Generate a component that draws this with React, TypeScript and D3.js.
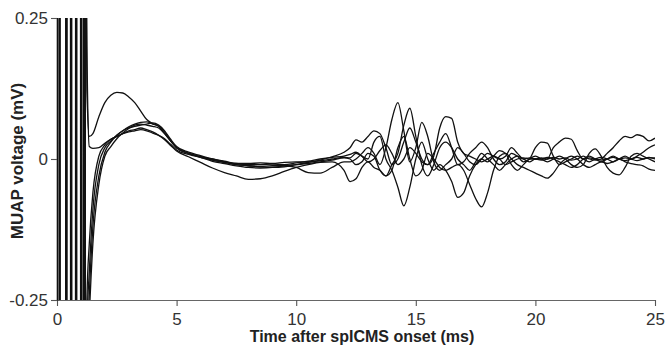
import * as d3 from "d3";
import { useEffect, useRef } from "react";

// sample times (ms) after the stimulus artifact
const sampleTimes = [
  1.25, 1.35, 1.5, 1.75, 2, 2.25, 2.5, 2.75, 3, 3.25, 3.5, 3.75, 4, 4.25, 4.5, 4.75, 5,
  5.5, 6, 6.5, 7, 7.5, 8, 8.5, 9, 9.5, 10, 10.5, 11, 11.5, 12,
  12.25, 12.5, 12.75, 13, 13.25, 13.5, 13.75, 14, 14.25, 14.5, 14.75, 15, 15.25, 15.5, 15.75, 16,
  16.25, 16.5, 16.75, 17, 17.25, 17.5, 17.75, 18, 18.25, 18.5, 18.75, 19, 19.25, 19.5, 19.75, 20,
  20.25, 20.5, 20.75, 21, 21.25, 21.5, 21.75, 22, 22.25, 22.5, 22.75, 23, 23.25, 23.5, 23.75, 24,
  24.25, 24.5, 24.75, 25,
];

// MUAP voltage (mV) per sweep
const sweepA = [
  0.12, 0.04, 0.045, 0.075, 0.1, 0.113, 0.118, 0.117, 0.11, 0.1, 0.085, 0.07, 0.063, 0.058, 0.045, 0.032, 0.02,
  0.01, 0.004, 0, -0.004, -0.008, -0.01, -0.01, -0.009, -0.01, -0.007, -0.004, 0, 0.003, 0.005,
  0.008, 0.012, 0.005, -0.005, 0, 0.015, 0.025, 0.01, -0.01, 0, 0.02, 0.01, -0.005, -0.01, 0.005, 0.055,
  0.075, 0.072, 0.03, 0.01, 0.005, 0, -0.005, 0, 0.005, 0, -0.01, -0.005, 0, 0.002, 0, 0,
  0.002, 0, 0.003, 0, 0.002, -0.002, 0, 0.005, 0, -0.002, 0, 0.01, 0.02, 0.032, 0.04, 0.038,
  0.043, 0.04, 0.032, 0.037,
];
const sweepB = [
  0.2, 0.022, 0.019, 0.02, 0.028, 0.035, 0.04, 0.045, 0.048, 0.05, 0.052, 0.05, 0.046, 0.042, 0.036, 0.026, 0.016,
  0.008, 0.003, -0.002, -0.006, -0.01, -0.012, -0.014, -0.015, -0.014, -0.01, -0.006, -0.002, 0.004, 0.012,
  0.02, 0.034, 0.03, 0.04, 0.05, 0.045, 0.02, -0.01, 0, 0.03, 0.055, 0.03, 0, -0.01, 0.01, 0.03,
  0.045, 0.02, -0.01, -0.005, 0.01, 0.02, 0.03, 0.02, 0, -0.01, -0.005, 0.01, 0.005, -0.005, 0, 0.02,
  0.03, 0.028, 0.005, -0.01, -0.005, 0, 0.005, 0, -0.005, 0, 0.003, 0, -0.005, 0, 0.005, 0,
  0.005, 0.012, 0.02, 0.025,
];
const sweepC = [
  -0.25, -0.15, -0.06, 0.005, 0.025, 0.035, 0.04, 0.045, 0.05, 0.052, 0.055, 0.052, 0.048, 0.042, 0.034, 0.024, 0.014,
  0.004, -0.006, -0.016, -0.024, -0.03, -0.036, -0.035, -0.03, -0.022, -0.015, -0.01, -0.006, -0.005, -0.02,
  -0.04, -0.035, -0.015, -0.005, -0.015, -0.02, -0.03, -0.02, 0.02, 0.04, 0, -0.03, -0.02, 0.01, 0, -0.015,
  -0.02, -0.015, -0.01, -0.02, -0.045, -0.07, -0.085, -0.06, -0.02, 0.005, 0.01, 0, -0.01, -0.015, -0.02, -0.025,
  -0.03, -0.034, -0.025, -0.01, 0, 0.005, 0, -0.01, -0.015, -0.01, -0.005, -0.008, -0.005, 0, -0.005, -0.008,
  -0.01, -0.012, -0.018, -0.02,
];
const sweepD = [
  -0.3, -0.2, -0.09, -0.01, 0.02, 0.032, 0.042, 0.05, 0.057, 0.062, 0.065, 0.066, 0.062, 0.058, 0.048, 0.032, 0.02,
  0.01, 0.004, -0.002, -0.006, -0.01, -0.012, -0.013, -0.012, -0.012, -0.015, -0.024, -0.025, -0.015, -0.005,
  -0.005, 0, 0.01, 0.02, 0.01, -0.01, 0.02, 0.07, 0.1, 0.05, -0.005, 0.02, 0.065, 0.04, -0.005, -0.02,
  -0.01, 0, 0.02, 0.01, -0.005, -0.01, 0, 0.01, 0.005, 0, 0.005, 0.02, 0.01, 0, 0.002, 0,
  -0.002, 0, 0.02, 0.03, 0.037, 0.035, 0.015, 0, 0.002, 0, -0.002, 0, 0.003, 0, 0.002, 0,
  -0.003, 0, 0.003, 0,
];
const sweepE = [
  -0.35, -0.24, -0.12, -0.03, 0.012, 0.03, 0.042, 0.05, 0.055, 0.058, 0.06, 0.062, 0.064, 0.06, 0.05, 0.035, 0.022,
  0.012, 0.006, 0, -0.005, -0.008, -0.008, -0.007, -0.008, -0.006, -0.005, -0.005, -0.003, 0, 0.003,
  0.002, 0.01, 0.005, 0, 0.03, 0.04, 0, -0.02, -0.05, -0.083, -0.05, 0, 0.03, 0, -0.02, -0.01,
  -0.02, -0.04, -0.068, -0.06, -0.03, -0.01, 0, -0.005, 0.005, 0.015, 0.01, -0.01, -0.02, -0.01, 0, 0.005,
  0, -0.005, 0, 0.005, 0, -0.01, -0.015, -0.01, 0.01, 0.018, 0.005, -0.015, -0.025, -0.028, -0.015, 0.005,
  0.01, 0.005, 0, -0.005,
];
const sweepF = [
  -0.4, -0.28, -0.15, -0.045, 0.005, 0.022, 0.036, 0.046, 0.054, 0.06, 0.062, 0.06, 0.058, 0.055, 0.045, 0.032, 0.02,
  0.01, 0.003, -0.004, -0.008, -0.012, -0.015, -0.016, -0.015, -0.012, -0.01, -0.008, -0.005, -0.002, 0.002,
  0, -0.01, -0.005, 0.01, 0.005, -0.02, -0.03, -0.01, 0.01, 0.06, 0.09, 0.04, -0.01, -0.03, -0.01, 0.02,
  0.03, 0.02, 0, -0.01, -0.02, -0.005, 0.01, 0, -0.01, -0.02, -0.01, 0, 0.005, 0, -0.005, 0,
  0, 0.003, 0, -0.005, -0.01, -0.015, -0.01, 0, 0.005, 0, -0.005, 0, 0.005, 0, -0.003, 0,
  0.003, 0, 0.002, 0.002,
];

// saturated stimulus artifact, [time ms, mV] (off-scale values are clipped)
const artifactA = [[0, 0], [0.01, 1], [0.09, 1], [0.1, -1], [0.36, -1], [0.37, 1], [0.56, 1], [0.57, -1], [0.77, -1], [0.78, 1], [0.98, 1], [0.99, -1], [1.1, -1], [1.11, 1]];
const artifactB = [[0, 0], [0.02, 1], [0.1, 1], [0.11, -1], [0.37, -1], [0.38, 1], [0.57, 1], [0.58, -1], [0.78, -1], [0.79, 1], [0.99, 1], [1.0, -1], [1.11, -1], [1.12, 1]];
const artifactC = [[0, 0], [0.015, 1], [0.105, 1], [0.115, -1], [0.38, -1], [0.39, 1], [0.58, 1], [0.59, -1], [0.79, -1], [0.8, 1], [1.0, 1], [1.01, -1], [1.12, -1], [1.13, 1], [1.15, 1], [1.16, -1]];
const artifactD = [[0, 0], [0.02, 1], [0.11, 1], [0.12, -1], [0.39, -1], [0.4, 1], [0.59, 1], [0.6, -1], [0.8, -1], [0.81, 1], [1.01, 1], [1.02, -1], [1.13, -1], [1.14, 1], [1.16, 1], [1.17, -1]];
const artifactE = [[0, 0], [0.01, 1], [0.1, 1], [0.11, -1], [0.4, -1], [0.41, 1], [0.6, 1], [0.61, -1], [0.81, -1], [0.82, 1], [1.02, 1], [1.03, -1], [1.12, -1], [1.13, 1], [1.17, 1], [1.18, -1]];
const artifactF = [[0, 0], [0.03, 1], [0.12, 1], [0.13, -1], [0.41, -1], [0.42, 1], [0.61, 1], [0.62, -1], [0.82, -1], [0.83, 1], [1.03, 1], [1.04, -1], [1.14, -1], [1.15, 1], [1.18, 1], [1.19, -1]];

const sweeps = [
  { artifact: artifactA, values: sweepA },
  { artifact: artifactB, values: sweepB },
  { artifact: artifactC, values: sweepC },
  { artifact: artifactD, values: sweepD },
  { artifact: artifactE, values: sweepE },
  { artifact: artifactF, values: sweepF },
];

const xTicks = [0, 5, 10, 15, 20, 25];
const yTicks = [-0.25, 0, 0.25];

function drawChart(svgEl: SVGSVGElement) {
  const svg = d3.select(svgEl);
  svg.selectAll("*").remove();

  const left = 57, right = 655, top = 18, bottom = 300;
  const x = d3.scaleLinear().domain([0, 25]).range([left, right]);
  const y = d3.scaleLinear().domain([-0.25, 0.25]).range([bottom, top]);

  svg.append("clipPath").attr("id", "plotClip")
    .append("rect")
    .attr("x", left).attr("y", top)
    .attr("width", right - left).attr("height", bottom - top);

  const line = d3.line<number[]>()
    .x(d => x(d[0]))
    .y(d => y(d[1]))
    .curve(d3.curveMonotoneX);

  svg.append("g").attr("clip-path", "url(#plotClip)")
    .selectAll("path")
    .data(sweeps)
    .enter().append("path")
    .attr("d", s => line(s.artifact.concat(s.values.map((v, i) => [sampleTimes[i], v]))))
    .attr("fill", "none")
    .attr("stroke", "#111")
    .attr("stroke-width", 1.3)
    .attr("stroke-linejoin", "round");

  const font = "'Liberation Sans', Arial, sans-serif";

  const xAxis = svg.append("g")
    .attr("transform", `translate(0,${bottom})`)
    .call(d3.axisBottom(x).tickValues(xTicks).tickSize(6).tickSizeOuter(0).tickPadding(7));
  const yAxis = svg.append("g")
    .attr("transform", `translate(${left},0)`)
    .call(d3.axisLeft(y).tickValues(yTicks).tickSize(6).tickSizeOuter(0).tickPadding(3)
      .tickFormat(d => (d === 0 ? "0" : (+d).toFixed(2))));

  xAxis.select(".domain").attr("stroke", "#666").attr("stroke-width", 1);
  yAxis.select(".domain").attr("stroke", "#111").attr("stroke-width", 1.6);
  [xAxis, yAxis].forEach(g => {
    g.selectAll(".tick line").attr("stroke", "#555").attr("stroke-width", 1.1);
    g.selectAll(".tick text")
      .attr("font-family", font).attr("font-size", 17).attr("fill", "#333");
  });

  svg.append("text")
    .attr("x", 362).attr("y", 342)
    .attr("text-anchor", "middle")
    .attr("font-family", font).attr("font-size", 16).attr("font-weight", "bold")
    .attr("fill", "#222")
    .text("Time after spICMS onset (ms)");

  svg.append("text")
    .attr("transform", "translate(23,161) rotate(-90)")
    .attr("text-anchor", "middle")
    .attr("font-family", font).attr("font-size", 17).attr("font-weight", "bold")
    .attr("fill", "#222")
    .text("MUAP voltage (mV)");
}

export default function App() {
  const ref = useRef<SVGSVGElement>(null);
  useEffect(() => {
    if (ref.current) drawChart(ref.current);
  }, []);
  return (
    <svg ref={ref} width={665} height={346}
      style={{ position: "absolute", left: 0, top: 0, background: "#fff" }} />
  );
}
